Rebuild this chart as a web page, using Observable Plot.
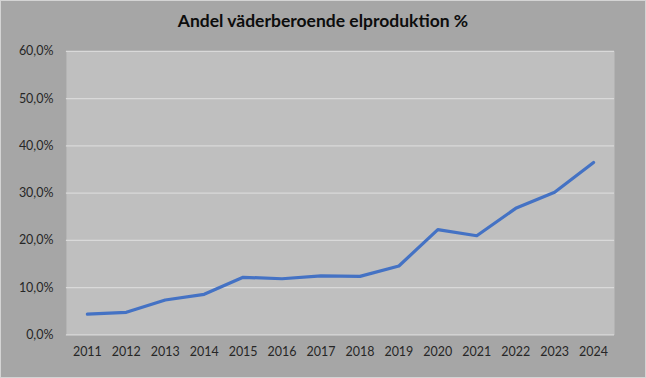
<!DOCTYPE html>
<html>
<head>
<meta charset="utf-8">
<script src="https://cdn.jsdelivr.net/npm/d3@7"></script>
<script src="https://cdn.jsdelivr.net/npm/@observablehq/plot@0.6"></script>
<style>
  html, body { margin: 0; padding: 0; background: #a6a6a6; }
  #chart {
    position: relative;
    width: 644px; height: 376px;
    background: #a6a6a6;
    border: 1px solid #d4d4d4;
    font-family: Lato, "Open Sans", sans-serif;
    overflow: hidden;
  }
  #title {
    position: absolute; left: 0; top: 9px; width: 644px;
    text-align: center; font-weight: bold; font-size: 17.5px; color: #0d0d0d;
    font-family: Lato, "Open Sans", sans-serif;
  }
  #plot { position: absolute; left: -1px; top: -1px; }
</style>
</head>
<body>
<div id="chart">
  <div id="plot"></div>
  <div id="title">Andel väderberoende elproduktion %</div>
</div>
<script>
const years = ["2011","2012","2013","2014","2015","2016","2017","2018","2019","2020","2021","2022","2023","2024"];
const share = [4.4, 4.8, 7.4, 8.6, 12.2, 11.9, 12.5, 12.4, 14.6, 22.3, 21.0, 26.8, 30.2, 36.5];
const yTicks = [0, 10, 20, 30, 40, 50, 60];

const data = years.map((y, i) => ({year: y, value: share[i]}));
const fmt = d => d.toFixed(1).replace(".", ",") + "%";

const chart = Plot.plot({
  width: 646,
  height: 378,
  marginTop: 51,
  marginBottom: 43,
  marginLeft: 66,
  marginRight: 31,
  style: {background: "transparent", fontFamily: "Lato, 'Open Sans', sans-serif", fontSize: "12.5px", color: "#262626"},
  x: {type: "point", domain: years, padding: 0.5, label: null},
  y: {domain: [0, 60], label: null},
  marks: [
    Plot.frame({fill: "#bfbfbf", stroke: null}),
    Plot.ruleY(yTicks, {stroke: "#d9d9d9", strokeWidth: 1.2}),
    Plot.axisY(yTicks, {tickSize: 0, tickPadding: 13, tickFormat: fmt, label: null, fill: "#262626"}),
    Plot.axisX({tickSize: 0, tickPadding: 12, label: null, fill: "#262626"}),
    Plot.lineY(data, {x: "year", y: "value", stroke: "#4472c4", strokeWidth: 3.2, strokeLinejoin: "round", strokeLinecap: "round"})
  ]
});
document.getElementById("plot").appendChild(chart);
</script>
</body>
</html>
